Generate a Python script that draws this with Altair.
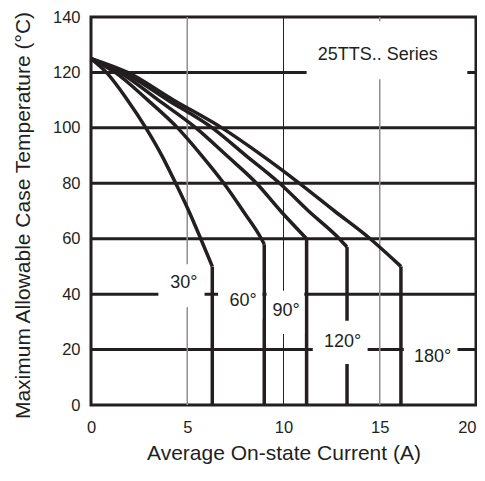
import altair as alt
import pandas as pd

# ---- data ----
angles = ["30°", "60°", "90°", "120°", "180°"]
curve_x = {
    "30°":  [0, 0.80, 1.90, 2.85, 3.68, 4.40, 5.08, 5.70, 6.30],
    "60°":  [0, 1.25, 2.95, 4.50, 5.75, 6.90, 7.90, 8.85, 9.00],
    "90°":  [0, 1.50, 3.50, 5.45, 7.05, 8.60, 9.85, 11.20],
    "120°": [0, 1.70, 4.00, 6.30, 8.05, 9.80, 11.30, 12.90, 13.30],
    "180°": [0, 1.90, 4.30, 6.80, 8.90, 10.83, 12.65, 14.50, 16.10],
}
curve_y = {
    "30°":  [125, 120, 110, 100, 90, 80, 70, 60, 50],
    "60°":  [125, 120, 110, 100, 90, 80, 70, 60, 58],
    "90°":  [125, 120, 110, 100, 90, 80, 70, 60],
    "120°": [125, 120, 110, 100, 90, 80, 70, 60, 57],
    "180°": [125, 120, 110, 100, 90, 80, 70, 60, 50],
}
h_grid = [20, 40, 60, 80, 100, 120]
v_grid_gray = [5, 15]
v_grid_dark = [10]
x_ticks = [0, 5, 10, 15, 20]
y_ticks = [0, 20, 40, 60, 80, 100, 120, 140]

label_text = ["30°", "60°", "90°", "120°", "180°", "25TTS.. Series"]
label_x = [4.82, 7.9, 10.13, 13.07, 17.75, 14.9]
label_y = [44.2, 37.6, 34.0, 22.6, 17.5, 126.2]
box_x1 = [3.5, 6.6, 9.12, 11.52, 16.25, 11.2]
box_x2 = [5.9, 8.9, 11.08, 14.37, 19.04, 19.55]
box_y1 = [35.3, 31.0, 25.6, 14.8, 10.0, 117.5]
box_y2 = [50.8, 45.0, 41.2, 30.4, 25.0, 138.5]

INK = "#231f20"
FONT = "Liberation Sans"

rows = []
for a in angles:
    for xv, yv in zip(curve_x[a], curve_y[a]):
        rows.append({"angle": a, "x": xv, "y": yv})
curves = pd.DataFrame(rows)
drops = pd.DataFrame({"angle": angles,
                      "x": [curve_x[a][-1] for a in angles],
                      "y": [curve_y[a][-1] for a in angles],
                      "y0": [0] * len(angles)})
labels = pd.DataFrame({"text": label_text, "x": label_x, "y": label_y,
                       "x1": box_x1, "x2": box_x2, "y1": box_y1, "y2": box_y2})

xs = alt.Scale(domain=[0, 20], nice=False)
ys = alt.Scale(domain=[0, 140], nice=False)
xaxis = alt.Axis(values=x_ticks, title="Average On-state Current (A)", format="d", labelFlush=False,
                 labelAlign=alt.ExprRef("datum.value == 20 ? 'right' : 'center'"))
yaxis = alt.Axis(values=y_ticks, title="Maximum Allowable Case Temperature (°C)", format="d",
                 labelFlush=False, titleY=198)


def X(f):
    return alt.X(f, type="quantitative", scale=xs, axis=xaxis)


def Y(f):
    return alt.Y(f, type="quantitative", scale=ys, axis=yaxis)


hgrid = alt.Chart(pd.DataFrame({"y": h_grid})).mark_rule(color=INK, strokeWidth=3).encode(y=Y("y"))
vgray = alt.Chart(pd.DataFrame({"x": v_grid_gray})).mark_rule(color="#8f8f8f", strokeWidth=1.5).encode(x=X("x"))
vdark = alt.Chart(pd.DataFrame({"x": v_grid_dark})).mark_rule(color=INK, strokeWidth=1).encode(x=X("x"))

lines = alt.Chart(curves).mark_line(color=INK, strokeWidth=3.5, interpolate="monotone").encode(
    x=X("x"), y=Y("y"), detail="angle:N", order="x:Q")
drop_rules = alt.Chart(drops).mark_rule(color=INK, strokeWidth=3.5).encode(
    x=X("x"), y=Y("y"), y2="y0:Q")

boxes = alt.Chart(labels).mark_rect(color="white").encode(
    x=X("x1"), x2="x2:Q", y=Y("y1"), y2="y2:Q")
texts = alt.Chart(labels).mark_text(font=FONT, fontSize=18, color=INK).encode(
    x=X("x"), y=Y("y"), text="text:N")

chart = alt.layer(hgrid, vgray, vdark, lines, drop_rules, boxes, texts).properties(
    width=385, height=388,
    autosize=alt.AutoSizeParams(type="none"),
    padding={"left": 83, "top": 9, "right": 1, "bottom": 63},
).configure_view(stroke=INK, strokeWidth=3).configure_axis(
    domain=False, ticks=False, grid=False,
    labelFont=FONT, labelFontSize=16.5, labelColor=INK,
    titleFont=FONT, titleFontWeight="normal", titleColor=INK,
).configure_axisY(labelPadding=11, titlePadding=19, titleFontSize=21).configure_axisX(
    labelPadding=14, titlePadding=7, titleFontSize=21)

chart.save("out.html", embed_options={"renderer": "svg", "actions": False})
